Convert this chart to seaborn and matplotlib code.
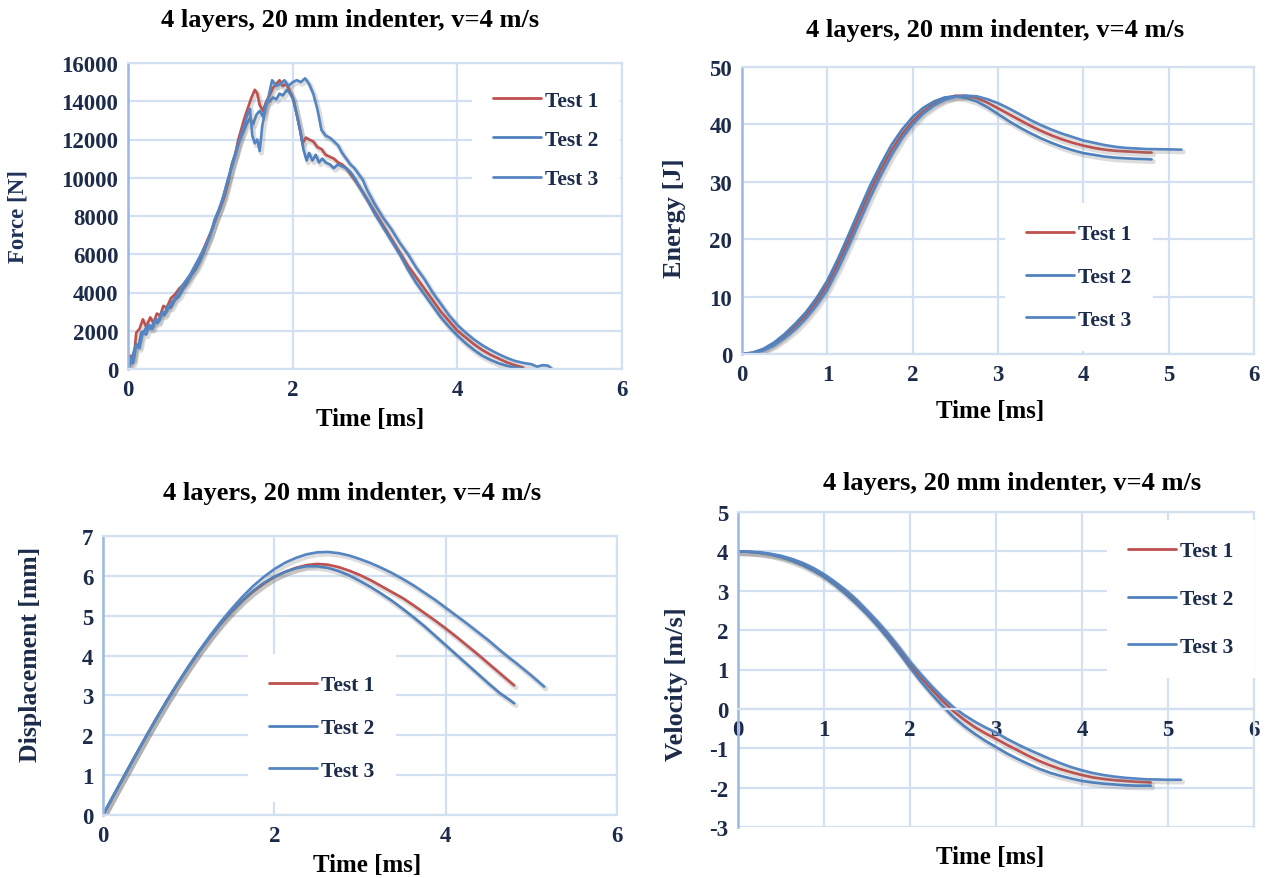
import numpy as np
import pandas as pd
import matplotlib
matplotlib.use("Agg")
import matplotlib.pyplot as plt
import matplotlib.patheffects as pe
import seaborn as sns

# ---------------- data ----------------
# Force [N] vs time [ms]
force_t1 = [0, 0.03, 0.07, 0.1, 0.14, 0.18, 0.22, 0.27, 0.31, 0.35, 0.39, 0.43, 0.47, 0.52, 0.57, 0.62,
            0.67, 0.72, 0.77, 0.82, 0.87, 0.92, 0.97, 1.02, 1.07, 1.12, 1.17, 1.22, 1.26, 1.3, 1.34, 1.38,
            1.42, 1.46, 1.5, 1.54, 1.57, 1.6, 1.64, 1.68, 1.72, 1.76, 1.8, 1.84, 1.88, 1.92, 1.96, 2.0,
            2.04, 2.08, 2.12, 2.16, 2.2, 2.25, 2.3, 2.35, 2.4, 2.45, 2.5, 2.55, 2.6, 2.65, 2.7, 2.75, 2.8,
            2.9, 3.0, 3.1, 3.2, 3.3, 3.4, 3.5, 3.6, 3.7, 3.8, 3.9, 4.0, 4.1, 4.2, 4.3, 4.4, 4.5, 4.6, 4.7, 4.8]
force_f1 = [0, 700, 500, 1900, 2100, 2600, 2200, 2700, 2400, 2900, 2800, 3300, 3200, 3700, 3900, 4200,
            4400, 4700, 5000, 5300, 5800, 6300, 6800, 7300, 7900, 8400, 9000, 9800, 10700, 11200, 12000, 12600,
            13200, 13700, 14200, 14600, 14400, 13800, 13500, 14000, 14300, 14700, 14900, 15100, 14800, 14900, 14600, 14200,
            13500, 12700, 11800, 12100, 12000, 11900, 11600, 11500, 11200, 11100, 11000, 10800, 10700, 10500, 10200, 9900, 9600,
            8900, 8200, 7500, 6800, 6100, 5400, 4800, 4200, 3600, 3000, 2500, 2000, 1650, 1300, 1000, 750, 550, 350, 200, 80]

force_t2 = [0, 0.04, 0.07, 0.1, 0.13, 0.16, 0.2, 0.24, 0.28, 0.32, 0.36, 0.4, 0.44, 0.48, 0.52, 0.57,
            0.62, 0.67, 0.72, 0.77, 0.82, 0.87, 0.92, 0.97, 1.02, 1.07, 1.12, 1.17, 1.22, 1.27, 1.32, 1.36,
            1.4, 1.44, 1.48, 1.52, 1.56, 1.6, 1.64, 1.68, 1.72, 1.76, 1.8, 1.84, 1.88, 1.93, 1.97, 2.01,
            2.05, 2.09, 2.13, 2.17, 2.2, 2.24, 2.28, 2.32, 2.36, 2.4, 2.45, 2.5, 2.55, 2.6, 2.65, 2.7, 2.75,
            2.8, 2.9, 3.0, 3.1, 3.2, 3.3, 3.4, 3.5, 3.6, 3.7, 3.8, 3.9, 4.0, 4.1, 4.2, 4.3, 4.4, 4.5, 4.6, 4.7, 4.8]
force_f2 = [0, 400, 900, 1300, 1200, 1900, 2000, 2300, 2100, 2500, 2400, 2900, 2800, 3300, 3200, 3600,
            3800, 4200, 4500, 4900, 5200, 5600, 6100, 6700, 7300, 7900, 8500, 9200, 10000, 10800, 11500, 12000,
            12400, 12800, 13100, 12800, 13300, 13500, 13200, 13900, 14000, 14200, 14100, 14400, 14300, 14600, 14400, 14100,
            13300, 12500, 11500, 10900, 11300, 10900, 11200, 10800, 11000, 10800, 10700, 10500, 10700, 10600, 10500, 10300, 10000,
            9600, 8900, 8100, 7400, 6700, 6000, 5200, 4500, 3900, 3300, 2700, 2200, 1750, 1350, 1000, 700, 480, 300, 170, 80, 0]

force_t3 = [0, 0.03, 0.06, 0.1, 0.14, 0.18, 0.22, 0.26, 0.3, 0.34, 0.38, 0.42, 0.46, 0.5, 0.55, 0.6,
            0.65, 0.7, 0.75, 0.8, 0.85, 0.9, 0.95, 1.0, 1.05, 1.1, 1.15, 1.2, 1.25, 1.3, 1.35, 1.4,
            1.45, 1.48, 1.51, 1.54, 1.57, 1.6, 1.63, 1.67, 1.71, 1.75, 1.8, 1.85, 1.9, 1.95, 2.0, 2.05,
            2.1, 2.15, 2.2, 2.25, 2.3, 2.35, 2.4, 2.45, 2.5, 2.55, 2.6, 2.65, 2.7, 2.75, 2.8, 2.85, 2.9,
            3.0, 3.1, 3.2, 3.3, 3.4, 3.5, 3.6, 3.7, 3.8, 3.9, 4.0, 4.1, 4.2, 4.3, 4.4, 4.5, 4.6, 4.7, 4.8,
            4.9, 4.97, 5.03, 5.1, 5.15]
force_f3 = [0, 600, 300, 1200, 1100, 1900, 1800, 2300, 2100, 2600, 2500, 3000, 2900, 3300, 3600, 3900,
            4300, 4600, 4900, 5300, 5700, 6100, 6500, 7000, 7800, 8300, 8900, 9700, 10400, 11100, 11900, 12600,
            13300, 13600, 12200, 11800, 12000, 11400, 12700, 13600, 14300, 15100, 14800, 14900, 15100, 14800, 15000, 15100,
            15000, 15200, 14900, 14400, 13600, 12500, 12200, 12100, 11900, 11700, 11300, 11000, 10700, 10500, 10200, 9900, 9400,
            8600, 7900, 7300, 6600, 6000, 5300, 4700, 4000, 3400, 2800, 2300, 1900, 1550, 1250, 1000, 780, 580, 420, 320,
            250, 120, 200, 180, 0]

# Time grids for the smooth curves [ms]
t_std = [0, 0.125, 0.25, 0.375, 0.5, 0.625, 0.75, 0.875, 1.0, 1.125, 1.25, 1.375, 1.5, 1.625, 1.75, 1.875,
         2.0, 2.125, 2.25, 2.375, 2.5, 2.625, 2.75, 2.875, 3.0, 3.125, 3.25, 3.375, 3.5, 3.625, 3.75, 3.875,
         4.0, 4.125, 4.25, 4.375, 4.5, 4.625, 4.75, 4.8]
t_long = t_std + [5.0, 5.15]

# Energy [J]
energy_1 = [0, 0.2, 0.8, 1.8, 3.2, 4.9, 6.8, 9.2, 12.0, 15.7, 19.8, 24.1, 28.3, 32.1, 35.5, 38.3,
            40.6, 42.3, 43.6, 44.5, 45.0, 45.0, 44.6, 43.8, 42.8, 41.8, 40.8, 39.8, 38.9, 38.1, 37.4, 36.8,
            36.3, 35.9, 35.6, 35.4, 35.3, 35.2, 35.1, 35.1]
energy_2 = [0, 0.25, 0.9, 2.0, 3.5, 5.3, 7.3, 9.8, 12.8, 16.6, 20.8, 25.1, 29.3, 33.0, 36.4, 39.1,
            41.3, 42.9, 44.0, 44.7, 44.9, 44.6, 44.0, 43.0, 41.8, 40.6, 39.5, 38.5, 37.6, 36.8, 36.1, 35.5,
            35.0, 34.7, 34.4, 34.2, 34.1, 34.0, 33.95, 33.9]
energy_3 = [0, 0.15, 0.6, 1.5, 2.8, 4.3, 6.2, 8.5, 11.2, 14.8, 18.8, 23.0, 27.2, 31.1, 34.6, 37.6,
            40.0, 41.9, 43.3, 44.3, 44.8, 45.0, 44.9, 44.4, 43.7, 42.8, 41.8, 40.8, 39.9, 39.1, 38.4, 37.8,
            37.2, 36.8, 36.4, 36.1, 35.9, 35.8, 35.7, 35.7, 35.65, 35.6]

# Displacement [mm]
disp_1 = [0, 0.5, 0.99, 1.48, 1.96, 2.43, 2.88, 3.31, 3.72, 4.11, 4.47, 4.8, 5.1, 5.37, 5.6, 5.8,
          5.97, 6.1, 6.2, 6.27, 6.3, 6.28, 6.22, 6.13, 6.02, 5.89, 5.74, 5.59, 5.44, 5.26, 5.07, 4.88,
          4.68, 4.47, 4.25, 4.03, 3.8, 3.57, 3.34, 3.25]
disp_2 = [0, 0.5, 0.99, 1.48, 1.96, 2.43, 2.88, 3.31, 3.72, 4.11, 4.47, 4.81, 5.11, 5.38, 5.62, 5.82,
          5.98, 6.1, 6.19, 6.24, 6.24, 6.2, 6.12, 6.01, 5.87, 5.72, 5.55, 5.37, 5.17, 4.96, 4.74, 4.5,
          4.26, 4.02, 3.78, 3.54, 3.3, 3.07, 2.88, 2.8]
disp_3 = [0, 0.5, 0.99, 1.48, 1.96, 2.43, 2.89, 3.32, 3.74, 4.13, 4.5, 4.85, 5.17, 5.47, 5.74, 5.97,
          6.17, 6.33, 6.45, 6.54, 6.59, 6.6, 6.57, 6.51, 6.42, 6.32, 6.2, 6.07, 5.92, 5.76, 5.58, 5.4,
          5.2, 5.0, 4.8, 4.59, 4.38, 4.15, 3.93, 3.85, 3.5, 3.22]

# Velocity [m/s]
vel_1 = [4.0, 3.99, 3.97, 3.93, 3.87, 3.79, 3.68, 3.54, 3.38, 3.19, 2.97, 2.72, 2.45, 2.15, 1.83, 1.48,
         1.12, 0.8, 0.5, 0.21, -0.05, -0.27, -0.46, -0.62, -0.76, -0.91, -1.05, -1.19, -1.32, -1.43, -1.53, -1.61,
         -1.68, -1.74, -1.78, -1.81, -1.83, -1.85, -1.86, -1.87]
vel_2 = [4.0, 3.99, 3.96, 3.92, 3.85, 3.76, 3.65, 3.51, 3.35, 3.15, 2.92, 2.67, 2.4, 2.1, 1.77, 1.42,
         1.05, 0.7, 0.38, 0.08, -0.2, -0.43, -0.63, -0.81, -0.97, -1.13, -1.27, -1.4, -1.52, -1.62, -1.7, -1.77,
         -1.83, -1.87, -1.9, -1.92, -1.94, -1.95, -1.95, -1.95]
vel_3 = [4.0, 3.99, 3.98, 3.94, 3.89, 3.81, 3.71, 3.58, 3.42, 3.23, 3.02, 2.78, 2.5, 2.21, 1.9, 1.56,
         1.2, 0.88, 0.58, 0.3, 0.05, -0.15, -0.32, -0.47, -0.6, -0.76, -0.9, -1.03, -1.15, -1.27, -1.38, -1.48,
         -1.56, -1.63, -1.68, -1.72, -1.75, -1.77, -1.79, -1.79, -1.8, -1.8]

test_labels = ["Test 1", "Test 2", "Test 3"]
title_text = "4 layers, 20 mm indenter, v=4 m/s"

# ---------------- style ----------------
sns.set_theme(style="white")
plt.rcParams["font.family"] = ["Liberation Serif", "DejaVu Serif"]
plt.rcParams["font.weight"] = "bold"
plt.rcParams["axes.unicode_minus"] = False

RED = "#c0504d"
BLUE = "#4f81bd"
BLUE3 = "#5585c2"
GRID = "#d3e0f2"
SPINE_L = "#9ab8e2"
NAVY = "#1c2b4a"

W, H = 1274, 879
fig = plt.figure(figsize=(W / 100, H / 100), dpi=100)
fig.patch.set_facecolor("white")


def add_ax(l, r, t, b):
    return fig.add_axes([l / W, 1 - b / H, (r - l) / W, (b - t) / H])


def draw(ax, ts, ys, colors):
    for t, y, c, lab in zip(ts, ys, colors, test_labels):
        df = pd.DataFrame({"t": t, "v": y})
        sns.lineplot(data=df, x="t", y="v", ax=ax, color=c, lw=1.9, label=lab,
                     estimator=None, sort=False)
    for ln in ax.lines:
        ln.set_path_effects([pe.SimpleLineShadow(offset=(1.2, -1.6), shadow_color="#7a7a7a",
                                                 alpha=0.25, linewidth=3.6),
                             pe.Normal()])


def style(ax, box, xticks, ylim, yticks, title_xy, xlabel_xy, ylabel, ylabel_xy,
          ylabel_size, ylabel_color, leg_xy, leg_spacing):
    l, r, t, b = box
    ax.set_xlim(0, 6)
    ax.set_xticks(xticks)
    ax.set_ylim(*ylim)
    ax.set_yticks(yticks)
    ax.grid(True, color=GRID, lw=1.6)
    ax.set_axisbelow(True)
    for s in ["top", "right", "bottom"]:
        ax.spines[s].set_color(GRID)
        ax.spines[s].set_linewidth(1.6)
    ax.spines["left"].set_color(SPINE_L)
    ax.spines["left"].set_linewidth(1.8)
    ax.tick_params(length=0, labelsize=16.5, labelcolor=NAVY, pad=7)
    for lab in ax.get_xticklabels() + ax.get_yticklabels():
        lab.set_fontweight("bold")
    # title
    fig.text(title_xy[0] / W, 1 - title_xy[1] / H, title_text, ha="center", va="center",
             fontsize=19, fontweight="bold", color="black")
    # labels
    ax.set_xlabel("Time [ms]", fontsize=18, fontweight="bold", color="black")
    ax.xaxis.set_label_coords((xlabel_xy[0] - l) / (r - l), (b - xlabel_xy[1]) / (b - t))
    ax.xaxis.label.set_va("center")
    ax.set_ylabel(ylabel, fontsize=ylabel_size, fontweight="bold", color=ylabel_color)
    ax.yaxis.set_label_coords((ylabel_xy[0] - l) / (r - l), (b - ylabel_xy[1]) / (b - t))
    ax.yaxis.label.set_va("center")
    # legend
    leg = ax.legend(loc="center", bbox_to_anchor=((leg_xy[0] - l) / (r - l), (b - leg_xy[1]) / (b - t)),
                    frameon=True, fancybox=False, facecolor="white", edgecolor="none", framealpha=1,
                    prop={"family": ["Liberation Serif"], "weight": "bold", "size": 15.5},
                    handlelength=2.2, labelspacing=leg_spacing, borderpad=1.0, handletextpad=0.2)
    for h in leg.legend_handles:
        h.set_path_effects([])
        h.set_linewidth(2.0)
    for tx in leg.get_texts():
        tx.set_color(NAVY)


# Panel 1: Force
box1 = (128, 622, 64, 370)
ax1 = add_ax(*box1)
draw(ax1, [force_t1, force_t2, force_t3], [force_f1, force_f2, force_f3], [RED, BLUE, BLUE3])
style(ax1, box1, [0, 2, 4, 6], (0, 16000), np.arange(0, 16001, 2000), (350, 21),
      (370, 420), "Force [N]", (18, 217), 16.5, "#1f3158", (546, 141), 0.89)

# Panel 2: Energy
box2 = (742, 1254, 68, 355)
ax2 = add_ax(*box2)
draw(ax2, [t_std, t_std, t_long], [energy_1, energy_2, energy_3], [RED, BLUE, BLUE3])
style(ax2, box2, [0, 1, 2, 3, 4, 5, 6], (0, 50), np.arange(0, 51, 10), (995, 30),
      (990, 412), "Energy [J]", (675, 218), 19, NAVY, (1079, 278), 1.06)

# Panel 3: Displacement
box3 = (103, 617, 537, 816)
ax3 = add_ax(*box3)
draw(ax3, [t_std, t_std, t_long], [disp_1, disp_2, disp_3], [RED, BLUE, BLUE3])
style(ax3, box3, [0, 2, 4, 6], (0, 7), np.arange(0, 8, 1), (352, 494),
      (367, 866), "Displacement [mm]", (31, 654), 18.5, NAVY, (322, 729), 1.06)

# Panel 4: Velocity
box4 = (738, 1254, 513, 828)
ax4 = add_ax(*box4)
draw(ax4, [t_std, t_std, t_long], [vel_1, vel_2, vel_3], [RED, BLUE, BLUE3])
style(ax4, box4, [0, 1, 2, 3, 4, 5, 6], (-3, 5), np.arange(-3, 6, 1), (1012, 484),
      (990, 858), "Velocity [m/s]", (676, 684), 19, NAVY, (1181, 600), 1.29)
ax4.spines["bottom"].set_position(("data", 0))

fig.savefig("out.png", dpi=100, facecolor="white")
